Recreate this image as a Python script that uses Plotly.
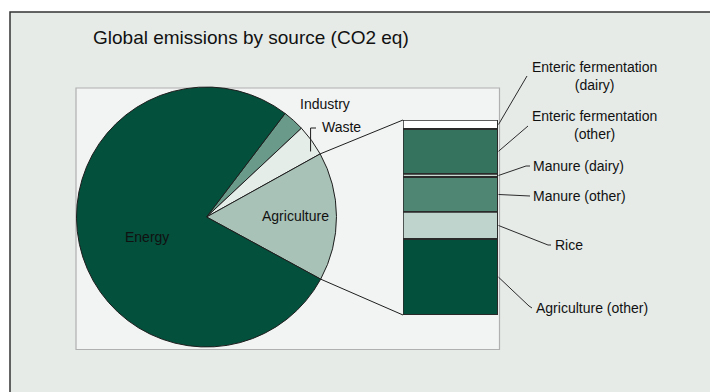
import math
import plotly.graph_objects as go

# ---------------- data ----------------
pie_labels = ["Industry", "Waste", "Agriculture", "Energy"]
pie_values = [2.7, 3.9, 16.0, 77.4]
pie_colors = ["#6A9A89", "#E5EDE9", "#A8C2B7", "#03503C"]

# agriculture breakdown (bottom -> top of the stacked bar), % of agriculture
bar_labels = ["Agriculture (other)", "Rice", "Manure (other)", "Manure (dairy)",
              "Enteric fermentation (other)", "Enteric fermentation (dairy)"]
bar_values = [38.8, 14.2, 17.6, 1.9, 22.9, 4.6]
bar_colors = ["#03503C", "#BFD4CC", "#4F8673", "#C8D8D1", "#35735F", "#FFFFFF"]
bar_texts = ["Agriculture (other)", "Rice", "Manure (other)", "Manure (dairy)",
             "Enteric fermentation<br>(other)", "Enteric fermentation<br>(dairy)"]

title_text = "Global emissions by source (CO2 eq)"

# ---------------- layout geometry (window pixels) ----------------
W, H = 718, 392
OX, OY = 8, 8          # page body margin offset of the figure in the window
FONT = "Liberation Sans, Arial, sans-serif"


def px(x):
    return (x - OX) / W


def py(y):
    return 1 - (y - OY) / H


pie_cx, pie_cy, pie_r = 206.5, 217.0, 130.0
rotation = 37.2
bar_x0, bar_x1 = 403.0, 498.0
bar_y0, bar_y1 = 120.0, 315.0

fig = go.Figure()

fig.add_trace(go.Pie(
    labels=pie_labels, values=pie_values, sort=False, direction="clockwise",
    rotation=rotation, textinfo="none", hoverinfo="label+value",
    marker=dict(colors=pie_colors, line=dict(color="#1e1e1e", width=1)),
    domain=dict(x=[px(pie_cx - pie_r), px(pie_cx + pie_r)],
                y=[py(pie_cy + pie_r), py(pie_cy - pie_r)]),
    showlegend=False,
))

for lab, val, col in zip(bar_labels, bar_values, bar_colors):
    fig.add_trace(go.Bar(
        x=[0], y=[val], name=lab, width=1, cliponaxis=False,
        marker=dict(color=col, line=dict(color="#2a2a2a", width=1.5)),
        showlegend=False, hoverinfo="name+y",
    ))

total_bar = sum(bar_values)
total_pie = sum(pie_values)

shapes = []
# outer panel
shapes.append(dict(type="rect", xref="paper", yref="paper", layer="below",
                   x0=px(10), x1=px(W + 30), y0=py(H + 30), y1=py(12),
                   fillcolor="#E6EBE8", line=dict(color="#333333", width=1.5)))
# inner plot area
shapes.append(dict(type="rect", xref="paper", yref="paper", layer="below",
                   x0=px(76), x1=px(499.5), y0=py(349.5), y1=py(88),
                   fillcolor="#F2F3F3", line=dict(color="#B0B0B0", width=1.2)))

# outlines of the stacked segments (data coordinates)
cum = 0.0
for val in bar_values:
    shapes.append(dict(type="rect", xref="x", yref="y", layer="above",
                       x0=-0.5, x1=0.5, y0=cum, y1=cum + val,
                       line=dict(color="#2a2a2a", width=1.5)))
    cum += val


def arc_point(frac):
    a = math.radians(rotation + frac * 360.0)
    return pie_cx + pie_r * math.sin(a), pie_cy - pie_r * math.cos(a)


# agriculture slice boundaries -> connector lines to the bar
start = sum(pie_values[:2]) / total_pie
end = sum(pie_values[:3]) / total_pie
ux, uy = arc_point(start)
lx, ly = arc_point(end)
for (x0, y0), (x1, y1) in [((ux, uy), (bar_x0, bar_y0)), ((lx, ly), (bar_x0, bar_y1))]:
    shapes.append(dict(type="line", xref="paper", yref="paper",
                       x0=px(x0), y0=py(y0), x1=px(x1), y1=py(y1),
                       line=dict(color="#1e1e1e", width=1)))

# Waste leader (from the slice's mid-angle on the arc)
wmid = (pie_values[0] + pie_values[1] / 2) / total_pie
wx, wy = arc_point(wmid)
shapes.append(dict(type="path", xref="paper", yref="paper",
                   path=f"M {px(wx - 1)} {py(wy + 11)} L {px(wx - 1)} {py(128)} L {px(316)} {py(128)}",
                   line=dict(color="#1e1e1e", width=1)))

# bar leaders: label endpoint positions (pixels) for each segment
leader_ends = [
    [(529, 306), (532, 308)],   # Agriculture (other)
    [(548, 245), (551, 245)],   # Rice
    [(530, 196)],               # Manure (other)
    [(526, 166), (530, 166)],   # Manure (dairy)
    [(528, 126)],               # Enteric fermentation (other)
    [(527, 76)],                # Enteric fermentation (dairy)
]
text_pos = [
    (534, 308, "left"),
    (553, 245, "left"),
    (531, 196, "left"),
    (531, 166, "left"),
    (594, 125, "center"),
    (594, 75.5, "center"),
]

cum = 0.0
annotations = []
for val, ends, (tx, ty, al), txt in zip(bar_values, leader_ends, text_pos, bar_texts):
    mid = cum + val / 2
    cum += val
    my = bar_y1 - mid / total_bar * (bar_y1 - bar_y0)
    pts = [(bar_x1 + 0.5, my)] + ends
    path = "M " + " L ".join(f"{px(x)} {py(y)}" for x, y in pts)
    shapes.append(dict(type="path", xref="paper", yref="paper", path=path,
                       line=dict(color="#2a2a2a", width=1)))
    annotations.append(dict(x=px(tx), y=py(ty), xref="paper", yref="paper",
                            text=txt, showarrow=False, align="center",
                            xanchor=al, yanchor="middle",
                            font=dict(family=FONT, size=14, color="#111111")))

# pie labels
pie_ann = [
    dict(x=px(146.5), y=py(237), text="Energy", xanchor="center"),
    dict(x=px(295), y=py(216), text="Agriculture", xanchor="center"),
    dict(x=px(297.5), y=py(104), text="Industry", xanchor="left"),
    dict(x=px(320), y=py(127), text="Waste", xanchor="left"),
]
for a in pie_ann:
    a.update(xref="paper", yref="paper", showarrow=False, yanchor="middle",
             font=dict(family=FONT, size=14, color="#111111"))
annotations += pie_ann

annotations.append(dict(x=px(90.5), y=py(37), xref="paper", yref="paper",
                        text=title_text, showarrow=False, xanchor="left",
                        yanchor="middle",
                        font=dict(family=FONT, size=19, color="#111111")))

fig.update_layout(
    width=W, height=H, margin=dict(l=0, r=0, t=0, b=0),
    paper_bgcolor="#FFFFFF", plot_bgcolor="rgba(0,0,0,0)",
    barmode="stack", bargap=0,
    xaxis=dict(domain=[px(bar_x0), px(bar_x1)], range=[-0.5, 0.5], visible=False,
               fixedrange=True),
    yaxis=dict(domain=[py(bar_y1), py(bar_y0)], range=[0, total_bar], visible=False,
               fixedrange=True),
    shapes=shapes, annotations=annotations,
)

fig.write_html("out.html")
